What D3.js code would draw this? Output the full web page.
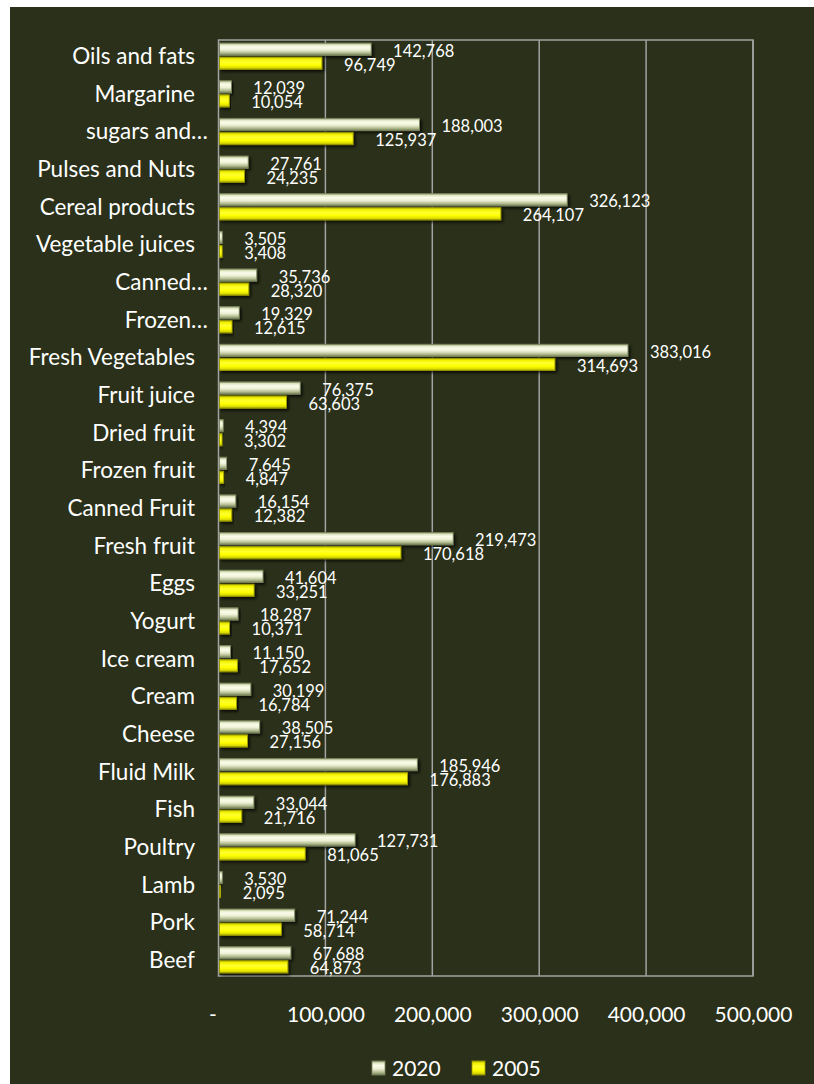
<!DOCTYPE html>
<html>
<head>
<meta charset="utf-8">
<script src="https://cdn.jsdelivr.net/npm/d3@7"></script>
<style>
  html, body { margin: 0; padding: 0; background: #ffffff; }
  svg { display: block; }
  text { font-family: Lato, "Open Sans", "Noto Sans", sans-serif; fill: #ffffff; }
</style>
</head>
<body>
<svg id="chart" width="814" height="1084"></svg>
<script>
// Food categories, top to bottom
const categories = [
  "Oils and fats", "Margarine", "sugars and…", "Pulses and Nuts", "Cereal products",
  "Vegetable juices", "Canned…", "Frozen…", "Fresh Vegetables", "Fruit juice",
  "Dried fruit", "Frozen fruit", "Canned Fruit", "Fresh fruit", "Eggs",
  "Yogurt ", "Ice cream", "Cream", "Cheese", "Fluid Milk",
  "Fish", "Poultry", "Lamb", "Pork", "Beef"
];

// Series values
const values2020 = [
  142768, 12039, 188003, 27761, 326123,
  3505, 35736, 19329, 383016, 76375,
  4394, 7645, 16154, 219473, 41604,
  18287, 11150, 30199, 38505, 185946,
  33044, 127731, 3530, 71244, 67688
];
const values2005 = [
  96749, 10054, 125937, 24235, 264107,
  3408, 28320, 12615, 314693, 63603,
  3302, 4847, 12382, 170618, 33251,
  10371, 17652, 16784, 27156, 176883,
  21716, 81065, 2095, 58714, 64873
];

const seriesNames = ["2020", "2005"];
const tickValues = [0, 100000, 200000, 300000, 400000, 500000];
const tickLabels = ["-", "100,000", "200,000", "300,000", "400,000", "500,000"];

const svg = d3.select("#chart");
const W = 814, H = 1084;
const plot = { left: 218.5, right: 753, top: 40, bottom: 976 };

// dark panel
svg.append("rect").attr("x", 10).attr("y", 7).attr("width", W - 10).attr("height", H - 7)
  .attr("fill", "#2a3019");

const defs = svg.append("defs");
const grad2020 = defs.append("linearGradient").attr("id", "g2020")
  .attr("x1", 0).attr("y1", 0).attr("x2", 0).attr("y2", 1);
[["0%", "#7f8b60"], ["14%", "#dfe5c2"], ["32%", "#fbfcea"], ["55%", "#eef1d6"], ["80%", "#b4bd92"], ["100%", "#6e7a50"]]
  .forEach(([o, c]) => grad2020.append("stop").attr("offset", o).attr("stop-color", c));
const grad2005 = defs.append("linearGradient").attr("id", "g2005")
  .attr("x1", 0).attr("y1", 0).attr("x2", 0).attr("y2", 1);
[["0%", "#a9a900"], ["16%", "#f2f200"], ["40%", "#ffff30"], ["65%", "#ffff00"], ["88%", "#dada00"], ["100%", "#8f8f00"]]
  .forEach(([o, c]) => grad2005.append("stop").attr("offset", o).attr("stop-color", c));
const shadow = defs.append("filter").attr("id", "shadow")
  .attr("x", "-5%").attr("y", "-30%").attr("width", "120%").attr("height", "180%");
shadow.append("feDropShadow").attr("dx", 2).attr("dy", 2).attr("stdDeviation", 1.5)
  .attr("flood-color", "#000000").attr("flood-opacity", 0.75);

const fills = { "2020": "url(#g2020)", "2005": "url(#g2005)" };
const strokes = { "2020": "#7c8760", "2005": "#9c9c00" };

const x = d3.scaleLinear().domain([0, 500000]).range([plot.left, plot.right]);
const y = d3.scaleBand().domain(categories).range([plot.top, plot.bottom])
  .paddingInner(0.3).paddingOuter(0.08);
const ySub = d3.scaleBand().domain(seriesNames).range([0, y.bandwidth()]).paddingInner(0.12);

// vertical gridlines
svg.append("g").selectAll("line").data(tickValues.slice(1)).join("line")
  .attr("x1", d => x(d)).attr("x2", d => x(d))
  .attr("y1", plot.top).attr("y2", plot.bottom)
  .attr("stroke", "#a3a3a3").attr("stroke-width", 1.5);

// plot frame
svg.append("rect").attr("x", plot.left).attr("y", plot.top)
  .attr("width", plot.right - plot.left).attr("height", plot.bottom - plot.top)
  .attr("fill", "none").attr("stroke", "#a3a3a3").attr("stroke-width", 1.5);

// bars
const rows = categories.map((c, i) => ({ cat: c, vals: [
  { s: "2020", v: values2020[i] }, { s: "2005", v: values2005[i] }
] }));

const groups = svg.append("g").selectAll("g").data(rows).join("g")
  .attr("transform", d => `translate(0,${y(d.cat)})`);

groups.selectAll("rect").data(d => d.vals).join("rect")
  .attr("x", x(0) + 1)
  .attr("y", d => ySub(d.s))
  .attr("width", d => Math.max(0, x(d.v) - x(0) - 1))
  .attr("height", ySub.bandwidth())
  .attr("fill", d => fills[d.s])
  .attr("stroke", d => strokes[d.s])
  .attr("stroke-width", 0.8)
  .attr("filter", "url(#shadow)");

const fmt = d3.format(",");
groups.selectAll("text.val").data(d => d.vals).join("text")
  .attr("class", "val")
  .attr("x", d => x(d.v) + 22)
  .attr("y", d => ySub(d.s) + ySub.bandwidth() / 2 + 7.5)
  .attr("font-size", 16.5)
  .text(d => fmt(d.v));

// category labels
svg.append("g").selectAll("text").data(categories).join("text")
  .attr("x", d => d.endsWith("…") ? 208 : 195)
  .attr("y", d => y(d) + y.bandwidth() / 2 + 8)
  .attr("text-anchor", "end")
  .attr("font-size", 22.5)
  .text(d => d);

// x axis labels
const xAxis = d3.axisBottom(x).tickValues(tickValues)
  .tickFormat((d, i) => tickLabels[i]).tickSize(0).tickPadding(0);
const ax = svg.append("g").attr("transform", `translate(0,1022)`).call(xAxis);
ax.select(".domain").remove();
ax.selectAll("text").attr("dy", 0).attr("font-size", 21).attr("fill", "#ffffff")
  .style("font-family", "Lato, 'Open Sans', sans-serif");
ax.selectAll("text").filter((d, i) => i === 0).attr("dx", -6);

// legend
const legend = svg.append("g").attr("transform", "translate(372,1061)");
const items = legend.selectAll("g").data(seriesNames).join("g")
  .attr("transform", (d, i) => `translate(${i * 100},0)`);
items.append("rect").attr("width", 13).attr("height", 14)
  .attr("fill", d => fills[d]).attr("stroke", d => strokes[d]).attr("stroke-width", 0.8);
items.append("text").attr("x", 20).attr("y", 14.5).attr("font-size", 21).text(d => d);
</script>
</body>
</html>
